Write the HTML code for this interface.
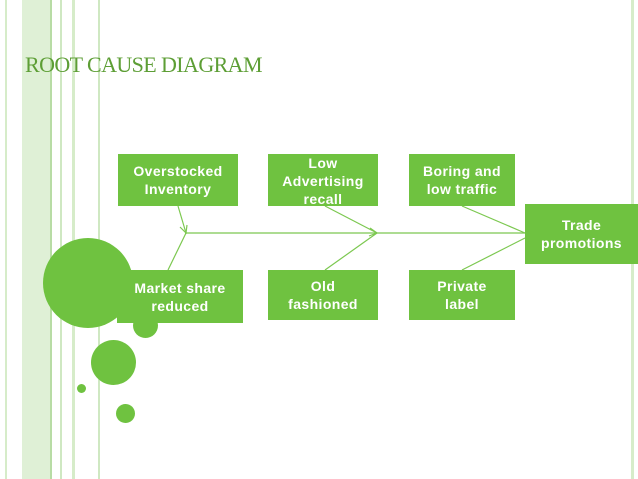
<!DOCTYPE html>
<html><head><style>
body{margin:0;width:638px;height:479px;background:#fff;position:relative;overflow:hidden;font-family:"Liberation Sans",sans-serif}
.b{position:absolute;background:#6fc240;color:#fff;font-weight:bold;font-size:14px;line-height:18px;text-align:center;display:flex;align-items:center;justify-content:center;letter-spacing:0.4px}
.s{position:absolute;top:0;height:479px}
.c{position:absolute;background:#6fc240;border-radius:50%}
</style></head><body>
<div class="s" style="left:5px;width:2px;background:#d6ecc9"></div>
<div class="s" style="left:22px;width:28px;background:#dff0d6"></div>
<div class="s" style="left:50px;width:2px;background:#b8dca5"></div>
<div class="s" style="left:60px;width:2px;background:#cfe8c2"></div>
<div class="s" style="left:72px;width:3px;background:#d6ecc9"></div>
<div class="s" style="left:98px;width:2px;background:#cfe8c2"></div>
<div class="s" style="left:631px;width:3px;background:#d6ecc9"></div>
<div style="position:absolute;left:25px;top:52px;font-family:'Liberation Serif',serif;font-size:22px;letter-spacing:-0.6px;color:#5d9e35">ROOT CAUSE DIAGRAM</div>
<div class="c" style="left:43px;top:238px;width:90px;height:90px"></div>
<div class="c" style="left:133px;top:313px;width:25px;height:25px"></div>
<div class="c" style="left:91px;top:340px;width:45px;height:45px"></div>
<div class="c" style="left:77px;top:384px;width:9px;height:9px"></div>
<div class="c" style="left:116px;top:404px;width:19px;height:19px"></div>
<svg style="position:absolute;left:0;top:0" width="638" height="479">
<g stroke="#7cc850" stroke-width="1.2" fill="none">
<line x1="185" y1="233" x2="525" y2="233"/>
<line x1="178" y1="206" x2="186" y2="233"/>
<line x1="168" y1="270" x2="186" y2="233"/>
<polyline points="180,227 186,233 187,225"/>
<line x1="325" y1="206" x2="377" y2="233"/>
<line x1="325" y1="270" x2="377" y2="233"/>
<polyline points="370,228 377,233 369,236"/>
<line x1="462" y1="206" x2="525" y2="233"/>
<line x1="462" y1="270" x2="525" y2="238"/>
</g></svg>
<div class="b" style="left:118px;top:154px;width:120px;height:52px">Overstocked<br>Inventory</div>
<div class="b" style="left:268px;top:154px;width:110px;height:52px;overflow:hidden;align-items:flex-start"><div style="margin-top:0">Low<br>Advertising<br>recall</div></div>
<div class="b" style="left:409px;top:154px;width:106px;height:52px">Boring and<br>low traffic</div>
<div class="b" style="left:525px;top:204px;width:113px;height:60px">Trade<br>promotions</div>
<div class="b" style="left:117px;top:270px;width:126px;height:53px">Market share<br>reduced</div>
<div class="b" style="left:268px;top:270px;width:110px;height:50px">Old<br>fashioned</div>
<div class="b" style="left:409px;top:270px;width:106px;height:50px">Private<br>label</div>
</body></html>
